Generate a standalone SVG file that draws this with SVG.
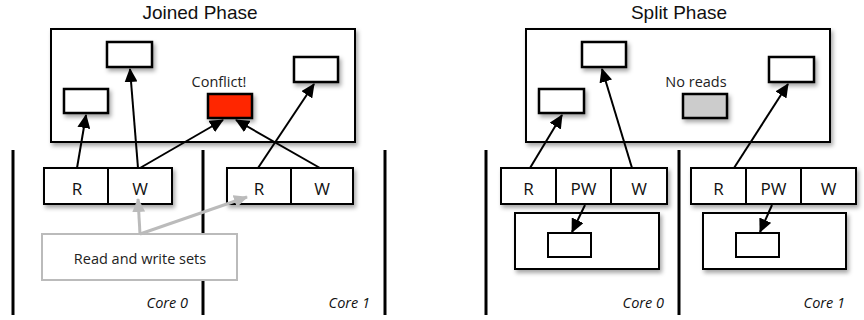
<svg xmlns="http://www.w3.org/2000/svg" width="864" height="320" viewBox="0 0 864 320">
<style>
.title{font-family:"Liberation Sans",Arial,sans-serif;font-size:19px;fill:#111;text-anchor:middle}
.lbl{font-family:"Open Sans","Noto Sans",sans-serif;font-size:17px;fill:#111;text-anchor:middle}
.small{font-family:"Open Sans","Noto Sans",sans-serif;font-size:14.5px;fill:#222;text-anchor:middle}
.core{font-family:"Open Sans","Noto Sans",sans-serif;font-size:14.5px;font-style:italic;fill:#111;text-anchor:end}
.box{fill:#fff;stroke:#000;stroke-width:2;filter:url(#sh)}
.sbox{fill:#fff;stroke:#000;stroke-width:2.5;filter:url(#sh)}
.div{stroke:#000;stroke-width:2}
.sep{stroke:#000;stroke-width:3}
.arr{stroke:#000;stroke-width:2;fill:none;marker-end:url(#ah)}
.garr{stroke:#bbb;stroke-width:3;fill:none;marker-end:url(#gh)}
</style>
<defs>
<filter id="sh" x="-20%" y="-20%" width="150%" height="160%">
<feDropShadow dx="2" dy="3" stdDeviation="2" flood-color="#000" flood-opacity="0.35"/>
</filter>
<marker id="ah" viewBox="0 0 14 13" markerWidth="14" markerHeight="13" refX="13" refY="6.5" orient="auto" markerUnits="userSpaceOnUse">
<path d="M0,0 L14,6.5 L0,13 z" fill="#000"/>
</marker>
<marker id="gh" viewBox="0 0 14 13" markerWidth="14" markerHeight="13" refX="13" refY="6.5" orient="auto" markerUnits="userSpaceOnUse">
<path d="M0,0 L14,6.5 L0,13 z" fill="#bbb"/>
</marker>
</defs>
<rect width="864" height="320" fill="#fff"/>

<g id="joined">
<text class="title" x="200" y="19">Joined Phase</text>
<rect class="box" x="51" y="29" width="304" height="113"/>
<rect id="j-top" class="sbox" x="107" y="42" width="45" height="25"/>
<rect id="j-left" class="sbox" x="64" y="89" width="44" height="24"/>
<rect id="j-right" class="sbox" x="294" y="57" width="44" height="25"/>
<rect id="j-conflict" class="sbox" x="208" y="94" width="44" height="24" style="fill:#ff2600"/>
<text class="small" x="219" y="87">Conflict!</text>
</g>

<g id="split">
<text class="title" x="679" y="19">Split Phase</text>
<rect class="box" x="526" y="29" width="304" height="113"/>
<rect id="s-top" class="sbox" x="582" y="42" width="44" height="25"/>
<rect id="s-left" class="sbox" x="539" y="89" width="45" height="24"/>
<rect id="s-right" class="sbox" x="769" y="57" width="45" height="25"/>
<rect id="s-noreads" class="sbox" x="683" y="94" width="44" height="24" style="fill:#ccc"/>
<text class="small" x="696" y="87">No reads</text>
</g>

<g id="separators">
<line class="sep" x1="13" y1="150" x2="13" y2="315"/>
<line class="sep" x1="203" y1="150" x2="203" y2="315"/>
<line class="sep" x1="385" y1="150" x2="385" y2="315"/>
<line class="sep" x1="486" y1="150" x2="486" y2="315"/>
<line class="sep" x1="679" y1="150" x2="679" y2="315"/>
</g>

<g id="j-core0">
<rect class="box" x="44" y="168" width="128" height="36"/>
<line class="div" x1="108" y1="168" x2="108" y2="204"/>
<text class="lbl" x="77" y="195">R</text>
<text class="lbl" x="140" y="195">W</text>
<text class="core" x="188" y="308">Core 0</text>
</g>
<g id="j-core1">
<rect class="box" x="227" y="168" width="126" height="36"/>
<line class="div" x1="291" y1="168" x2="291" y2="204"/>
<text class="lbl" x="259" y="195">R</text>
<text class="lbl" x="322" y="195">W</text>
<text class="core" x="370" y="308">Core 1</text>
</g>

<g id="s-core0">
<rect class="box" x="501" y="168" width="166" height="36"/>
<line class="div" x1="556" y1="168" x2="556" y2="204"/>
<line class="div" x1="611" y1="168" x2="611" y2="204"/>
<text class="lbl" x="528.5" y="195">R</text>
<text class="lbl" x="583.5" y="195">PW</text>
<text class="lbl" x="639" y="195">W</text>
<rect class="box" x="515" y="213" width="144" height="56"/>
<rect class="box" x="548" y="233" width="43" height="24" style="filter:none"/>
<text class="core" x="664" y="308">Core 0</text>
</g>
<g id="s-core1">
<rect class="box" x="691" y="168" width="165" height="36"/>
<line class="div" x1="746" y1="168" x2="746" y2="204"/>
<line class="div" x1="801" y1="168" x2="801" y2="204"/>
<text class="lbl" x="718.5" y="195">R</text>
<text class="lbl" x="773.5" y="195">PW</text>
<text class="lbl" x="828.5" y="195">W</text>
<rect class="box" x="703" y="213" width="143" height="56"/>
<rect class="box" x="736" y="233" width="43" height="24" style="filter:none"/>
<text class="core" x="845" y="308">Core 1</text>
</g>

<g id="rwsets">
<rect x="42" y="234" width="195" height="46" fill="#fff" stroke="#bbb" stroke-width="2"/>
<text class="small" x="140" y="264">Read and write sets</text>
</g>

<g id="connectors">
<line class="arr" x1="77" y1="168" x2="86" y2="115"/>
<line class="arr" x1="138" y1="168" x2="130" y2="69"/>
<line class="arr" x1="140" y1="168" x2="223" y2="120"/>
<line class="arr" x1="258" y1="168" x2="314" y2="84"/>
<line class="arr" x1="320" y1="168" x2="236" y2="120"/>
<line class="arr" x1="530" y1="168" x2="562" y2="115"/>
<line class="arr" x1="632" y1="168" x2="602" y2="69"/>
<line class="arr" x1="734" y1="168" x2="788" y2="84"/>
<line class="arr" x1="585" y1="205" x2="572" y2="232"/>
<line class="arr" x1="772" y1="205" x2="760" y2="232"/>
<line class="garr" x1="140" y1="234" x2="138" y2="199"/>
<line class="garr" x1="140" y1="234" x2="247" y2="197"/>
</g>
</svg>
